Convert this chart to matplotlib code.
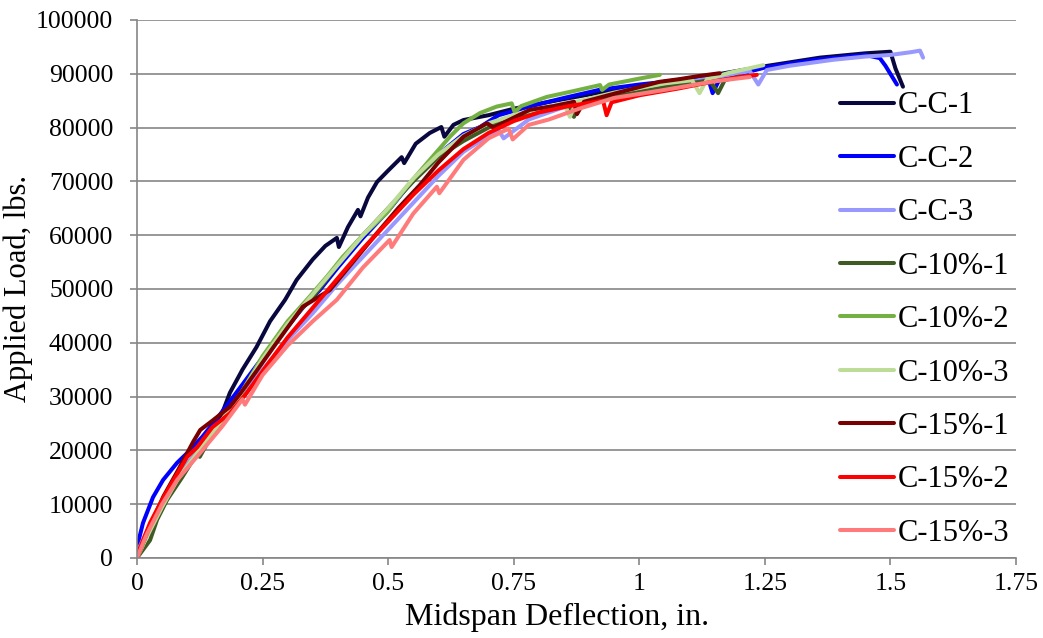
import numpy as np
import matplotlib
matplotlib.use("Agg")
import matplotlib.pyplot as plt
from matplotlib.ticker import FixedLocator, FuncFormatter

plt.rcParams['font.family'] = ['Liberation Serif', 'DejaVu Serif']

# midspan deflection (in.) and applied load (lbs.)
cc1_x = [0, 0.02, 0.05, 0.08, 0.11, 0.14, 0.17, 0.185, 0.21, 0.238, 0.265, 0.295, 0.318, 0.35, 0.375,
         0.398, 0.402, 0.42, 0.44, 0.445, 0.46, 0.478, 0.50, 0.527, 0.532, 0.555, 0.583, 0.606, 0.612,
         0.63, 0.65, 0.70, 0.75, 0.85, 0.95, 1.05, 1.15, 1.25, 1.36, 1.45, 1.50, 1.51, 1.525]
cc1_y = [0, 4500, 10000, 14500, 18500, 22500, 27000, 30700, 35000, 39200, 44000, 48000, 51700, 55500, 58000,
         59500, 57800, 61500, 64700, 63500, 67000, 69900, 72000, 74500, 73400, 77000, 79000, 80100, 78300,
         80500, 81400, 82300, 83500, 85300, 87000, 88500, 89800, 91400, 93000, 93800, 94100, 91000, 87600]

cc2_x = [0, 0.012, 0.032, 0.052, 0.08, 0.10, 0.13, 0.16, 0.20, 0.24, 0.278, 0.30, 0.33, 0.364, 0.40,
         0.45, 0.50, 0.55, 0.60, 0.65, 0.683, 0.72, 0.78, 0.85, 0.92, 1.0, 1.08, 1.137, 1.146, 1.16,
         1.252, 1.35, 1.45, 1.479, 1.49, 1.513]
cc2_y = [2000, 6500, 11300, 14500, 17700, 19500, 22500, 26000, 31000, 36000, 40500, 43000, 46500, 49800, 54000,
         59500, 64500, 70300, 75000, 78800, 80100, 82300, 83900, 85500, 87000, 88000, 88800, 89200, 86400, 89000,
         91200, 92600, 93500, 92900, 91500, 88000]

cc3_x = [0, 0.02, 0.05, 0.08, 0.12, 0.16, 0.20, 0.25, 0.30, 0.35, 0.40, 0.45, 0.50, 0.55, 0.60, 0.65,
         0.70, 0.72, 0.73, 0.78, 0.85, 0.95, 1.05, 1.15, 1.22, 1.237, 1.254, 1.30, 1.386, 1.45, 1.50,
         1.54, 1.559, 1.565]
cc3_y = [1000, 5000, 10500, 15000, 20000, 24500, 29000, 35000, 40500, 45500, 51000, 56000, 61000, 66000, 71000, 75500,
         78500, 79500, 78000, 81500, 83800, 86000, 87800, 89300, 90500, 88000, 90700, 91500, 92600, 93200, 93500,
         94000, 94300, 93000]

c101_x = [0, 0.026, 0.04, 0.06, 0.09, 0.12, 0.125, 0.15, 0.20, 0.25, 0.30, 0.35, 0.40, 0.45, 0.50, 0.55,
          0.60, 0.65, 0.70, 0.75, 0.80, 0.86, 0.87, 0.88, 0.95, 1.05, 1.14, 1.157, 1.17, 1.20]
c101_y = [0, 3300, 7100, 10800, 15000, 19500, 18800, 23000, 29500, 37000, 43500, 48500, 54500, 60000, 65000, 70000,
          74500, 77500, 80000, 82000, 83000, 84200, 82000, 84300, 85800, 87500, 88800, 86400, 88800, 89500]

c102_x = [0, 0.02, 0.05, 0.08, 0.12, 0.16, 0.20, 0.25, 0.30, 0.344, 0.38, 0.41, 0.45, 0.497, 0.537, 0.583,
          0.623, 0.65, 0.683, 0.716, 0.746, 0.752, 0.765, 0.816, 0.87, 0.922, 0.926, 0.94, 1.0, 1.041]
c102_y = [0, 4500, 10000, 14500, 19500, 24500, 29500, 37500, 44000, 48600, 52500, 56000, 60000, 64100, 69000, 74000,
          78300, 80800, 82700, 83900, 84500, 82900, 84000, 85700, 86800, 87900, 87000, 88000, 89100, 89800]

c103_x = [0, 0.02, 0.05, 0.08, 0.12, 0.16, 0.20, 0.25, 0.30, 0.35, 0.40, 0.45, 0.50, 0.55, 0.60, 0.65,
          0.70, 0.75, 0.80, 0.85, 0.862, 0.875, 0.95, 1.05, 1.105, 1.12, 1.135, 1.18, 1.247]
c103_y = [0, 4000, 9500, 14500, 19500, 24500, 29500, 37000, 43500, 49000, 54500, 60000, 65000, 70500, 75000, 78500,
          80800, 82300, 83500, 84500, 82000, 84800, 86500, 88200, 88800, 86400, 89000, 90200, 91600]

c151_x = [0, 0.026, 0.053, 0.08, 0.112, 0.126, 0.15, 0.185, 0.206, 0.24, 0.278, 0.33, 0.384, 0.43, 0.478,
          0.52, 0.563, 0.60, 0.65, 0.697, 0.71, 0.782, 0.83, 0.87, 0.876, 0.89, 0.95, 1.04, 1.08, 1.12, 1.16]
c151_y = [0, 6000, 11500, 16000, 21600, 23800, 25500, 28100, 30600, 35000, 40000, 46700, 49800, 55000, 60400,
          65000, 69300, 73500, 78300, 80800, 80000, 83300, 84000, 84800, 82500, 84800, 86300, 88500, 89000, 89600, 90100]

c152_x = [0, 0.026, 0.053, 0.10, 0.12, 0.15, 0.185, 0.218, 0.26, 0.30, 0.35, 0.40, 0.45, 0.50, 0.55, 0.60,
          0.65, 0.70, 0.75, 0.80, 0.86, 0.928, 0.935, 0.945, 1.0, 1.08, 1.15, 1.20, 1.234]
c152_y = [500, 6500, 11300, 18800, 20600, 24300, 26900, 30600, 36000, 41000, 46500, 52000, 57500, 62500, 67500, 72000,
          76000, 79000, 81200, 82800, 84000, 85000, 82300, 84700, 86000, 87300, 88600, 89400, 89800]

c153_x = [0, 0.02, 0.05, 0.08, 0.13, 0.17, 0.21, 0.215, 0.25, 0.30, 0.35, 0.398, 0.45, 0.503, 0.507, 0.55,
          0.597, 0.602, 0.65, 0.70, 0.74, 0.748, 0.78, 0.82, 0.88, 0.95, 1.05, 1.15, 1.22]
c153_y = [0, 4500, 10000, 14500, 20000, 24500, 29500, 28500, 34000, 39500, 44000, 48000, 54000, 59100, 57800, 64000,
          69000, 67800, 74000, 78000, 79800, 77800, 80500, 81500, 83500, 85500, 87000, 88600, 89400]

labels = ["C-C-1", "C-C-2", "C-C-3", "C-10%-1", "C-10%-2", "C-10%-3", "C-15%-1", "C-15%-2", "C-15%-3"]
colors = ["#08083f", "#0000ff", "#9898ff", "#3f5a22", "#74b142", "#bcdc98", "#780000", "#ff0000", "#ff7b7b"]
xs = [cc1_x, cc2_x, cc3_x, c101_x, c102_x, c103_x, c151_x, c152_x, c153_x]
ys = [cc1_y, cc2_y, cc3_y, c101_y, c102_y, c103_y, c151_y, c152_y, c153_y]

x_ticks = [0, 0.25, 0.5, 0.75, 1, 1.25, 1.5, 1.75]
y_ticks = list(range(0, 100001, 10000))

fig = plt.figure(figsize=(10.43, 6.38), dpi=100)
ax = fig.add_axes([0.1313, 0.1254, 0.8428, 0.8433])

grey = "#868686"
for x, y, c, lab in zip(xs, ys, colors, labels):
    ax.plot(x, y, color=c, lw=2.9, label=lab, solid_joinstyle="round", solid_capstyle="round")

ax.set_xlim(0, 1.75)
ax.set_ylim(0, 100000)
ax.xaxis.set_major_locator(FixedLocator(x_ticks))
ax.yaxis.set_major_locator(FixedLocator(y_ticks))
ax.xaxis.set_major_formatter(FuncFormatter(lambda v, p: "%g" % v))
ax.yaxis.set_major_formatter(FuncFormatter(lambda v, p: "%d" % v))
ax.yaxis.grid(True, color=grey, lw=1.2)
ax.set_axisbelow(True)
for s in ["top", "right"]:
    ax.spines[s].set_visible(False)
for s in ["left", "bottom"]:
    ax.spines[s].set_color(grey)
    ax.spines[s].set_linewidth(1.2)
ax.tick_params(axis="both", direction="out", length=5, width=1.2, color=grey, labelsize=18.5)
ax.tick_params(axis="y", pad=12)
ax.tick_params(axis="x", pad=6)

ax.set_xlabel("Midspan Deflection, in.", fontsize=23)
ax.xaxis.set_label_coords(0.478, -0.082)
ax.set_ylabel("Applied Load, lbs.", fontsize=22)
ax.yaxis.set_label_coords(-0.118, 0.5)

ax.legend(loc="center left", bbox_to_anchor=(0.80, 0.443), frameon=False, fontsize=22,
          handlelength=1.75, handletextpad=0.15, labelspacing=0.8, borderpad=0, borderaxespad=0)

fig.savefig("out.png", dpi=100)
